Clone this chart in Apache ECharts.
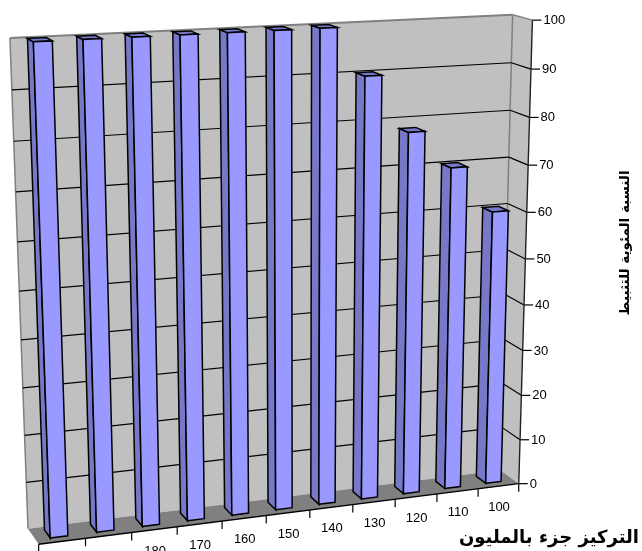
<!DOCTYPE html>
<html><head><meta charset="utf-8">
<style>html,body{margin:0;padding:0;background:#fff}#c{width:642px;height:551px}</style>
<script src="https://cdn.jsdelivr.net/npm/echarts@6/dist/echarts.min.js"></script>
</head><body><div id="c"></div>
<script>
const categories = ['100','110','120','130','140','150','160','170','180','190','200'];
const inhibition = [60,70,78,90,100,100,100,100,100,100,100];
const valueTicks = [0,10,20,30,40,50,60,70,80,90,100];
const xTitle = 'التركيز جزء بالمليون';
const yTitle = 'النسبة المئوية للتثبيط';

// Calibration of the 3D view: [u, v, w] box position -> screen position
const viewPairs = [
 [0,0,0,39,545],[5/11,0,0,266,515.5],[1,0,0,518,483],[1,0.5,0,525.5,259],[1,1,0,533,20],
 [0,1,1,10,38],[1,1,1,512,15],[1,0,1,501,471],[0,0,1,28,528],[1,0.5,1,506.5,249],[0,0.5,1,19,291]
];
function solveView(pairs){
  const A=[],b=[];
  pairs.forEach(([u,v,w,x,y])=>{
    A.push([u,v,w,1,0,0,0,0,-x*u,-x*v,-x*w]);b.push(x);
    A.push([0,0,0,0,u,v,w,1,-y*u,-y*v,-y*w]);b.push(y);
  });
  const n=11,N=[];
  for(let i=0;i<n;i++){N.push(new Array(n+1).fill(0));
    for(let j=0;j<n;j++)for(let k=0;k<A.length;k++)N[i][j]+=A[k][i]*A[k][j];
    for(let k=0;k<A.length;k++)N[i][n]+=A[k][i]*b[k];}
  for(let i=0;i<n;i++){let m=i;for(let r=i+1;r<n;r++)if(Math.abs(N[r][i])>Math.abs(N[m][i]))m=r;
    [N[i],N[m]]=[N[m],N[i]];
    for(let r=0;r<n;r++)if(r!==i){const f=N[r][i]/N[i][i];for(let c=i;c<=n;c++)N[r][c]-=f*N[i][c];}}
  return N.map((r,i)=>r[n]/r[i]);
}
const P=solveView(viewPairs);
function proj(u,v,w){
  const d=P[8]*u+P[9]*v+P[10]*w+1;
  return [(P[0]*u+P[1]*v+P[2]*w+P[3])/d,(P[4]*u+P[5]*v+P[6]*w+P[7])/d];
}
const AXIS_FONT='13px "Liberation Sans", Arial, sans-serif';
const poly=(points,fill,stroke,lw)=>({type:'polygon',shape:{points},style:{fill:fill,stroke:stroke||null,lineWidth:lw||1}});
const line=(a,b,stroke,lw)=>({type:'line',shape:{x1:a[0],y1:a[1],x2:b[0],y2:b[1]},style:{stroke:stroke,lineWidth:lw||1,fill:null}});
const txt=(p,text,align)=>({type:'text',style:{x:p[0],y:p[1],text:text,textAlign:align,textVerticalAlign:'middle',font:AXIS_FONT,fill:'#000'}});

// map a value through the library's scales into box coordinates
function toBox(api,params,cat,val){
  const r=params.coordSys,c=api.coord([cat,val]);
  return [(c[0]-r.x)/r.width,(r.y+r.height-c[1])/r.height];
}
function bandOf(api,params){return api.size([1,0])[0]/params.coordSys.width;}

function renderWalls(params,api){
  const E='#808080';
  return {type:'group',children:[
    poly([proj(0,1,1),proj(1,1,1),proj(1,0,1),proj(0,0,1)],'#C0C0C0'),
    poly([proj(1,1,1),proj(1,1,0),proj(1,0,0),proj(1,0,1)],'#C0C0C0'),
    poly([proj(0,0,1),proj(1,0,1),proj(1,0,0),proj(0,0,0)],'#808080'),
    line(proj(0,0,1),proj(0,1,1),E,1.5),line(proj(0,1,1),proj(1,1,1),E,2),
    line(proj(1,1,1),proj(1,0,1),E,1.5),line(proj(1,1,1),proj(1,1,0),E,1.5)
  ]};
}
function renderValueTick(params,api){
  const val=api.value(1),b=toBox(api,params,0,val),v=b[1];
  const fr=proj(1,v,0),children=[];
  if(val>0&&val<100){children.push(line(proj(0,v,1),proj(1,v,1),'#000',1.2),line(proj(1,v,1),fr,'#000',1.2));}
  children.push(line(fr,[fr[0]+9,fr[1]],'#000',1.2));
  children.push(txt([fr[0]+11,fr[1]+0.5],String(val),'left'));
  return {type:'group',children};
}
function renderCatTick(params,api){
  const i=api.value(0),b=toBox(api,params,i,0),bw=bandOf(api,params);
  const left=b[0]-bw/2,right=b[0]+bw/2;
  const a=proj(left,0,0),c=proj(b[0],0,0),children=[line(a,[a[0],a[1]+8],'#000',1.2)];
  if(i===0){const e=proj(right,0,0);children.push(line(e,[e[0],e[1]+8],'#000',1.2));}
  children.push(txt([c[0]+0.5,c[1]+21.5],categories[i],'center'));
  return {type:'group',children};
}
function renderBar(params,api){
  const i=api.value(0),b=toBox(api,params,i,api.value(1)),bw=bandOf(api,params)*0.38;
  const l=b[0]-bw/2,r=b[0]+bw/2,t=b[1],wf=0.28,wb=0.8,S='#000',lw=1.5;
  const sty=(pts,f)=>poly(pts,f,S,lw);
  return {type:'group',children:[
    sty([proj(l,0,wb),proj(l,0,wf),proj(l,t,wf),proj(l,t,wb)],'#7878C8'),
    sty([proj(l,t,wb),proj(l,t,wf),proj(r,t,wf),proj(r,t,wb)],'#7878C8'),
    sty([proj(l,0,wf),proj(r,0,wf),proj(r,t,wf),proj(l,t,wf)],'#9999FF')
  ]};
}
const chart=echarts.init(document.getElementById('c'),null,{renderer:'canvas'});
const base={type:'custom',silent:true,clip:false,animation:false};
chart.setOption({
  animation:false,
  grid:{left:40,right:40,top:40,bottom:40},
  xAxis:{type:'category',data:categories,inverse:true,show:false},
  yAxis:{type:'value',min:0,max:100,interval:10,show:false},
  series:[
    Object.assign({},base,{z:1,renderItem:renderWalls,data:[[0,0]]}),
    Object.assign({},base,{z:2,renderItem:renderValueTick,data:valueTicks.map(v=>[0,v])}),
    Object.assign({},base,{z:4,renderItem:(p,a)=>{const f=proj(0,0,0),e=proj(1,0,0),t=proj(1,1,0);return {type:'group',children:[line(f,e,'#000',1.4),line(e,t,'#222',1.4)]};},data:[[0,0]]}),
    Object.assign({},base,{z:3,renderItem:renderCatTick,data:categories.map((c,i)=>[i,0])}),
    Object.assign({},base,{z:5,renderItem:renderBar,data:inhibition.map((v,i)=>[i,v])})
  ],
  graphic:[
    {type:'text',x:639,y:538,z:10,style:{text:xTitle,textAlign:'right',textVerticalAlign:'middle',font:'bold 18px "DejaVu Sans", sans-serif',fill:'#000'}},
    {type:'text',x:625,y:243,rotation:Math.PI/2,z:10,style:{text:yTitle,textAlign:'center',textVerticalAlign:'middle',font:'bold 13.5px "DejaVu Sans", sans-serif',fill:'#000'}}
  ]
});
</script></body></html>
